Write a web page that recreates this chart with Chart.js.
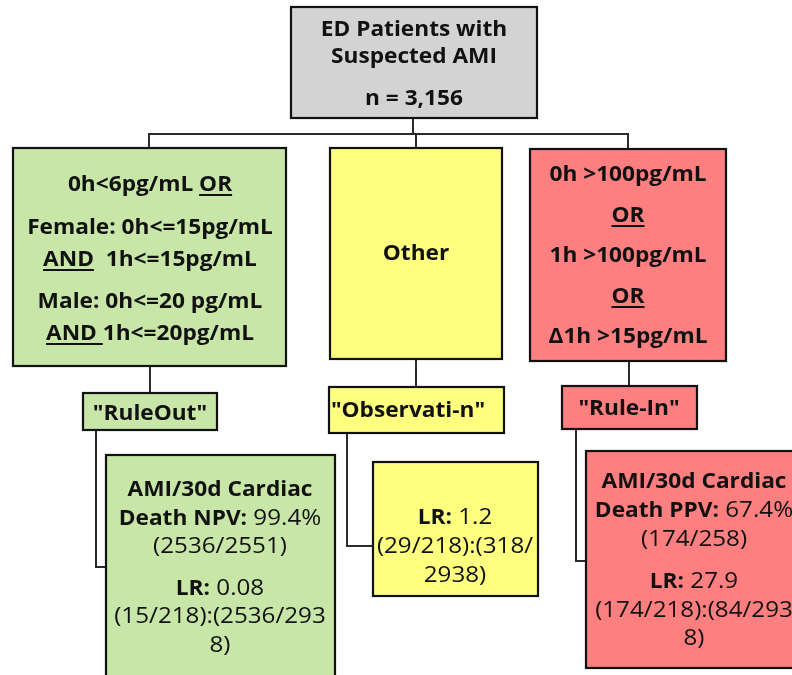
<!DOCTYPE html>
<html>
<head>
<meta charset="utf-8">
<script src="https://cdn.jsdelivr.net/npm/chart.js"></script>
<style>
  html, body { margin: 0; padding: 0; background: #fff; }
  #wrap { width: 792px; height: 675px; position: relative; }
</style>
</head>
<body>
<div id="wrap"><canvas id="flow"></canvas></div>
<script>
// box texts, one string per line.  _x_ = underlined, *x* = bold inside a regular line
const titleLines = ['ED Patients with', 'Suspected AMI', 'n = 3,156'];
const ruleOutCriteria = ['0h<6pg/mL _OR_', 'Female: 0h<=15pg/mL', '_AND_  1h<=15pg/mL', 'Male: 0h<=20 pg/mL', '_AND _1h<=20pg/mL'];
const otherCriteria = ['Other'];
const ruleInCriteria = ['0h >100pg/mL', '_OR_', '1h >100pg/mL', '_OR_', 'Δ1h >15pg/mL'];
const groupNames = ['"RuleOut"', '"Observati-n"', '"Rule-In"'];
const ruleOutResult = ['*AMI/30d Cardiac*', '*Death NPV:* 99.4%', '(2536/2551)', '*LR:* 0.08', '(15/218):(2536/293', '8)'];
const observationResult = ['*LR:* 1.2', '(29/218):(318/', '2938)'];
const ruleInResult = ['*AMI/30d Cardiac*', '*Death PPV:* 67.4%', '(174/258)', '*LR:* 27.9', '(174/218):(84/293', '8)'];

const FONT = '"Open Sans", Lato, sans-serif';
const STRETCH_BOLD = 1.03, STRETCH_REG = 1.1;
const GRAY = '#d3d3d3', GREEN = '#c8e6a7', YELLOW = '#ffff80', RED = '#fe7f7f';

// layout in chart units (x 0..792, y 0..675 top-down)
const boxes = [
  { r: [291, 7, 537, 118], fill: GRAY, lines: titleLines, cx: 414, base: [36, 63, 105], size: 22, bold: true },
  { r: [13, 148, 286, 366], fill: GREEN, lines: ruleOutCriteria, cx: 150, base: [191, 234, 266, 308, 340], size: 22, bold: true },
  { r: [330, 148, 502, 359], fill: YELLOW, lines: otherCriteria, cx: 416, base: [260], size: 22, bold: true },
  { r: [530, 149, 726, 361], fill: RED, lines: ruleInCriteria, cx: 628, base: [181, 222, 262, 303, 343], size: 22, bold: true },
  { r: [83, 393, 217, 430], fill: GREEN, lines: [groupNames[0]], cx: 150, base: [420], size: 22, bold: true },
  { r: [329, 387, 504, 433], fill: YELLOW, lines: [groupNames[1]], cx: 408, base: [417], size: 22, bold: true },
  { r: [562, 386, 697, 429], fill: RED, lines: [groupNames[2]], cx: 629, base: [415], size: 22, bold: true },
  { r: [106, 455, 335, 700], fill: GREEN, lines: ruleOutResult, cx: 220, base: [496, 525, 553, 595, 623, 652], size: 22, bold: false },
  { r: [373, 462, 538, 596], fill: YELLOW, lines: observationResult, cx: 455, base: [524, 553, 582], size: 22, bold: false },
  { r: [586, 451, 820, 668], fill: RED, lines: ruleInResult, cx: 694, base: [488, 517, 546, 588, 617, 645], size: 22, bold: false }
];

const connectors = [
  [[413, 118], [413, 134]],
  [[149, 148], [149, 134], [628, 134], [628, 149]],
  [[416, 134], [416, 148]],
  [[150, 366], [150, 393]],
  [[416, 359], [416, 387]],
  [[629, 361], [629, 386]],
  [[96, 430], [96, 567], [106, 567]],
  [[347, 433], [347, 546], [373, 546]],
  [[576, 429], [576, 561], [586, 561]]
];

function parseLine(line, bold) {
  const parts = line.split(/(_[^_]+_|\*[^*]+\*)/).filter(s => s.length);
  return parts.map(p => {
    if (p[0] === '_' && p.length > 1) return { t: p.slice(1, -1), b: true, u: true };
    if (p[0] === '*' && p.length > 1) return { t: p.slice(1, -1), b: true, u: false };
    return { t: p, b: bold, u: false };
  });
}

const flowPlugin = {
  id: 'flow',
  afterDraw(chart) {
    const ctx = chart.ctx;
    const sx = v => chart.scales.x.getPixelForValue(v);
    const sy = v => chart.scales.y.getPixelForValue(v);
    ctx.save();
    ctx.strokeStyle = '#2b2b2b';
    ctx.lineWidth = 2;
    connectors.forEach(pts => {
      ctx.beginPath();
      pts.forEach((p, i) => i ? ctx.lineTo(sx(p[0]), sy(p[1])) : ctx.moveTo(sx(p[0]), sy(p[1])));
      ctx.stroke();
    });
    boxes.forEach(bx => {
      const x0 = sx(bx.r[0]), y0 = sy(bx.r[1]), x1 = sx(bx.r[2]), y1 = sy(bx.r[3]);
      ctx.fillStyle = bx.fill;
      ctx.fillRect(x0, y0, x1 - x0, y1 - y0);
      ctx.strokeStyle = '#111';
      ctx.lineWidth = 2.2;
      ctx.strokeRect(x0, y0, x1 - x0, y1 - y0);
      ctx.fillStyle = '#111';
      ctx.textBaseline = 'alphabetic';
      ctx.textAlign = 'left';
      bx.lines.forEach((line, i) => {
        const segs = parseLine(line, bx.bold);
        let total = 0;
        segs.forEach(s => {
          ctx.font = (s.b ? 'bold ' : '') + bx.size + 'px ' + FONT;
          s.k = s.b ? STRETCH_BOLD : STRETCH_REG;
          s.w = ctx.measureText(s.t).width * s.k;
          total += s.w;
        });
        let x = sx(bx.cx) - total / 2;
        const y = sy(bx.base[i]);
        segs.forEach(s => {
          ctx.font = (s.b ? 'bold ' : '') + bx.size + 'px ' + FONT;
          ctx.save();
          ctx.translate(x, y);
          ctx.scale(s.k, 1);
          ctx.fillText(s.t, 0, 0);
          ctx.restore();
          if (s.u) ctx.fillRect(x, y + 3, s.w, 2);
          x += s.w;
        });
      });
    });
    ctx.restore();
  }
};

new Chart(document.getElementById('flow'), {
  type: 'scatter',
  data: { datasets: [{ data: [], pointRadius: 0 }] },
  options: {
    responsive: true,
    maintainAspectRatio: false,
    animation: false,
    layout: { padding: 0 },
    plugins: { legend: { display: false }, tooltip: { enabled: false } },
    scales: {
      x: { type: 'linear', min: 0, max: 792, display: false },
      y: { type: 'linear', min: 0, max: 675, reverse: true, display: false }
    }
  },
  plugins: [flowPlugin]
});
</script>
</body>
</html>
